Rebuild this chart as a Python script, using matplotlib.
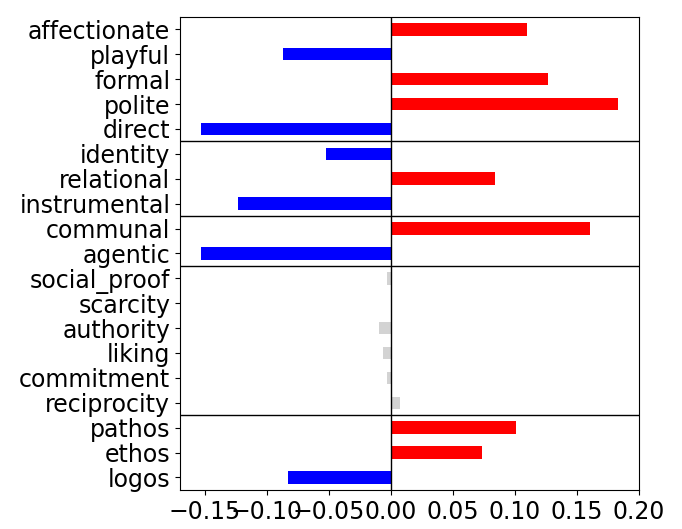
import numpy as np
import matplotlib
matplotlib.use("Agg")
import matplotlib.pyplot as plt


labels = ['affectionate', 'playful', 'formal', 'polite', 'direct',
          'identity', 'relational', 'instrumental',
          'communal', 'agentic',
          'social_proof', 'scarcity', 'authority', 'liking', 'commitment', 'reciprocity',
          'pathos', 'ethos', 'logos']
values = [0.110, -0.087, 0.1265, 0.1833, -0.1533,
          -0.0527, 0.0838, -0.123,
          0.1605, -0.1532,
          -0.003, 0.0, -0.0097, -0.0065, -0.003, 0.007,
          0.1005, 0.0738, -0.0829]
significant = [True] * 10 + [False] * 6 + [True] * 3
group_sizes = [5, 3, 2, 6, 3]


colors = []
for v, s in zip(values, significant):
    if not s:
        colors.append('lightgray')
    elif v > 0:
        colors.append('red')
    else:
        colors.append('blue')

y = np.arange(len(labels))

fig = plt.figure(figsize=(6.82, 5.29), dpi=100)
ax = fig.add_axes([0.264, 0.074, 0.673, 0.894])
ax.barh(y, values, height=0.5, color=colors)
ax.axvline(0, color='black', linewidth=1)

edge = -0.5
for n in group_sizes[:-1]:
    edge += n
    ax.axhline(edge, color='black', linewidth=1)

ax.set_ylim(len(labels) - 0.5, -0.5)
ax.set_yticks(y)
ax.set_yticklabels(labels)
ax.set_xticks([-0.15, -0.10, -0.05, 0.00, 0.05, 0.10, 0.15, 0.20])
ax.set_xticklabels(['−0.15', '−0.10', '−0.05', '0.00', '0.05', '0.10', '0.15', '0.20'])
ax.tick_params(labelsize=17)

plt.savefig('out.png', dpi=100)
